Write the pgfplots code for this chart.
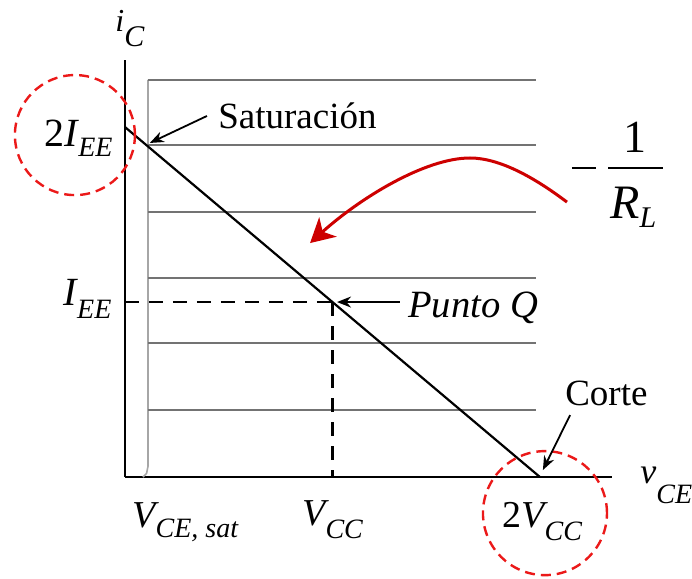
\documentclass[border=0pt]{standalone}
\usepackage{pgfplots}
\pgfplotsset{compat=1.18}
\usepackage{fontspec}
\setmainfont{Liberation Serif}
\usetikzlibrary{arrows.meta}
\definecolor{circred}{RGB}{235,25,25}
\definecolor{arrred}{RGB}{205,0,0}
\newcommand\lbl[5]{{\fontsize{#3}{#3}\selectfont\itshape #1}\raisebox{-#5}{\fontsize{#4}{#4}\selectfont\itshape #2}}
\begin{document}
\begin{tikzpicture}
\begin{axis}[
  scale only axis, x=103.75pt, y=87.5pt,
  xmin=0, xmax=2.347, ymin=0, ymax=2.383,
  axis lines=left, axis line style={-},
  x axis line style={line width=1.4pt},
  y axis line style={line width=1pt},
  xtick=\empty, ytick=\empty, clip=false,
]
% characteristic curves
\addplot[black!35, line width=0.8pt] coordinates {(0.087,0) (0.104,0.02) (0.111,0.06) (0.111,2.269)};
\addplot[black!55, line width=1pt] coordinates {(0.111,2.269) (1.98,2.269)};
\addplot[black!55, line width=1pt] coordinates {(0.111,1.897) (1.98,1.897)};
\addplot[black!55, line width=1pt] coordinates {(0.111,1.514) (1.98,1.514)};
\addplot[black!55, line width=1pt] coordinates {(0.111,1.137) (1.98,1.137)};
\addplot[black!55, line width=1pt] coordinates {(0.111,0.766) (1.98,0.766)};
\addplot[black!55, line width=1pt] coordinates {(0.111,0.383) (1.98,0.383)};
% load line
\addplot[black, line width=1.1pt] coordinates {(0,2) (2,0)};
% Q point projections
\addplot[black, line width=1.2pt, dash pattern=on 7pt off 5pt] coordinates {(0,1) (1,1)};
\addplot[black, line width=1.1pt, dash pattern=on 7pt off 5pt] coordinates {(1,1) (1,0)};
% red circles
\draw[circred, line width=1.2pt, dash pattern=on 5pt off 3pt] (axis cs:-0.241,1.954) circle[radius=30pt];
\draw[circred, line width=1.2pt, dash pattern=on 5pt off 3pt] (axis cs:2.024,-0.206) circle[radius=31pt];
% red curved arrow
\draw[arrred, line width=1.5pt, -{Stealth[length=12pt,width=13pt,inset=3.5pt]}]
  (axis cs:2.130,1.571) .. controls (axis cs:1.976,1.709) and (axis cs:1.807,1.823) ..
  (axis cs:1.663,1.823) .. controls (axis cs:1.446,1.823) and (axis cs:1.133,1.594) ..
  (axis cs:0.892,1.337);
% black arrows
\draw[line width=0.9pt, -{Stealth[length=7pt,width=5.5pt]}] (axis cs:0.395,2.063) -- (axis cs:0.120,1.909);
\draw[line width=0.9pt, -{Stealth[length=7pt,width=5.5pt]}] (axis cs:1.325,1.0) -- (axis cs:1.022,1.0);
\draw[line width=0.9pt, -{Stealth[length=7pt,width=5.5pt]}] (axis cs:2.145,0.354) -- (axis cs:2.014,0.040);
% texts
\node[anchor=base west, inner sep=0] at (axis cs:0.448,1.994) {\fontsize{18.5}{18.5}\selectfont Saturación};
\node[anchor=base west, inner sep=0] at (axis cs:1.364,0.914) {\fontsize{19.3}{19.3}\selectfont\itshape Punto Q};
\node[anchor=base west, inner sep=0] at (axis cs:2.120,0.411) {\fontsize{18.5}{18.5}\selectfont Corte};
\node[anchor=base east, inner sep=0] at (axis cs:-0.058,1.886) {\lbl{{\upshape 2}I}{EE}{20}{14}{5pt}};
\node[anchor=base east, inner sep=0] at (axis cs:-0.063,0.983) {\lbl{I}{EE}{20}{14}{6.5pt}};
\node[anchor=base west, inner sep=0] at (axis cs:0.034,-0.286) {\lbl{V}{CE, sat}{19}{14}{5pt}};
\node[anchor=base west, inner sep=0] at (axis cs:0.853,-0.274) {\lbl{V}{CC}{19}{14}{6.5pt}};
\node[anchor=base west, inner sep=0] at (axis cs:1.817,-0.286) {\lbl{{\upshape 2}V}{CC}{19}{14}{6.5pt}};
\node[anchor=base west, inner sep=0] at (axis cs:2.482,-0.034) {\lbl{v}{CE}{18}{14}{10pt}};
\node[anchor=base west, inner sep=0] at (axis cs:-0.048,2.543) {\lbl{i}{C}{16}{15}{7.5pt}};
% -1/R_L
\draw[line width=1pt] (axis cs:2.154,1.766) -- (axis cs:2.270,1.766);
\draw[line width=0.8pt] (axis cs:2.328,1.766) -- (axis cs:2.593,1.766);
\node[anchor=base, inner sep=0] at (axis cs:2.458,1.857) {\fontsize{23}{23}\selectfont 1};
\node[anchor=base west, inner sep=0] at (axis cs:2.337,1.480) {\lbl{R}{L}{24}{15}{4.5pt}};
% bounding box corners
\coordinate (BL) at (axis cs:-0.602,-0.577);
\coordinate (TR) at (axis cs:2.7325,2.7257);
\end{axis}
\pgfresetboundingbox
\useasboundingbox (BL) rectangle (TR);
\end{tikzpicture}
\end{document}
